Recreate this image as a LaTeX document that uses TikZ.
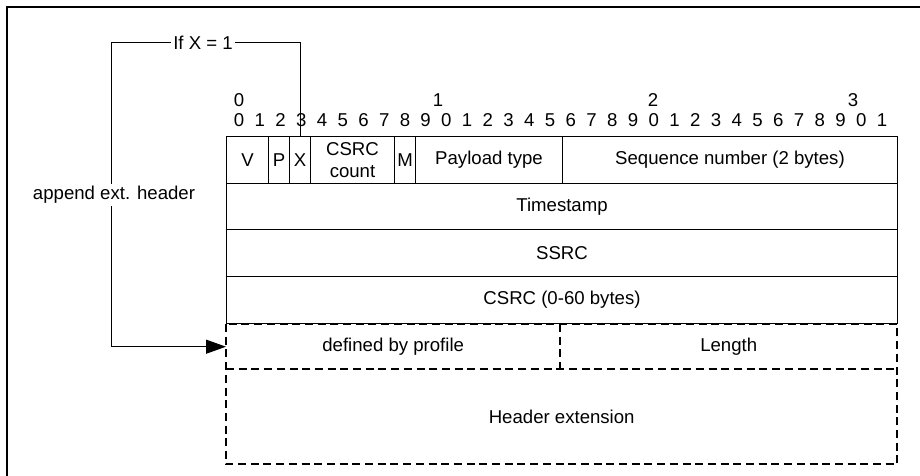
\documentclass[tikz,border=0pt]{standalone}
\usepackage{fontspec}
\setmainfont{Liberation Sans}
\usetikzlibrary{arrows.meta}
\begin{document}
\begin{tikzpicture}[x=1pt, y=-1pt,
  font=\fontsize{18.6}{22}\selectfont,
  cell/.style={draw, line width=1pt, anchor=north west, inner sep=0pt, align=center},
  extcell/.style={anchor=north west, inner sep=0pt, align=center},
  extline/.style={line width=2pt, dash pattern=on 8pt off 4.7pt},
  digit/.style={inner sep=0pt},
  wire/.style={line width=1pt},
  tip/.style={-{Triangle[length=20pt,width=14pt]}}]
\useasboundingbox (0,0) rectangle (920,476);
% outer frame (open to the right and bottom)
\draw[line width=2.6pt] (7,478) -- (7,7) -- (922,7);

% bit numbering
\foreach \t/\xx in {0/239, 1/438, 2/653, 3/853}
  \node[digit] (t\t) at (\xx,100) {\t};
\foreach \i in {0,...,31}{
  \pgfmathtruncatemacro{\d}{mod(\i,10)}
  \node[digit] (b\i) at ({239+20.74*\i},120.5) {\d};
}

% first header word
\node[cell, minimum width=42pt, minimum height=47pt] (v)   at (226,136) {V};
\node[cell, minimum width=21pt, minimum height=47pt] (p)   at (268,136) {P};
\node[cell, minimum width=21pt, minimum height=47pt] (xb)  at (289,136) {X};
\node[cell, minimum width=84pt, minimum height=47pt] (cc)  at (310,136) {CSRC\\count};
\node[cell, minimum width=21pt, minimum height=47pt] (m)   at (394,136) {M};
\node[cell, minimum width=147pt, minimum height=47pt] (pt) at (415,136) {Payload type};
\node[cell, minimum width=335pt, minimum height=47pt] (sq) at (562,136) {Sequence number (2 bytes)};

% remaining fixed words
\node[cell, minimum width=671pt, minimum height=46pt] (ts)   at (226,183) {Timestamp};
\node[cell, minimum width=671pt, minimum height=47pt] (ssrc) at (226,229) {SSRC};
\node[cell, minimum width=671pt, minimum height=47pt] (csrc) at (226,276) {CSRC (0-60 bytes)};

% optional header extension
\node[extcell, minimum width=334pt, minimum height=45pt] (prof) at (226,324) {defined by profile};
\node[extcell, minimum width=337pt, minimum height=45pt] (len)  at (560,324) {Length};
\node[extcell, minimum width=671pt, minimum height=95pt] (hext) at (226,369) {Header extension};
\draw[extline] (prof.north west) rectangle (hext.south east);
\draw[extline] (prof.south west) -- (len.south east);
\draw[extline] (prof.north east) -- (prof.south east);

% extension flag loop
\node[inner sep=2pt] (ifx) at (203,43) {If X = 1};
\node[inner sep=2pt] (app) at (114,195) {append ext. header};
\coordinate (bend) at (111,43);
\draw[wire] (xb.north) |- (ifx.east);
\draw[wire] (ifx.west) -- (bend) -- (app.north -| bend);
\draw[wire, tip] (app.south -| bend) |- (prof.west);
\end{tikzpicture}
\end{document}
